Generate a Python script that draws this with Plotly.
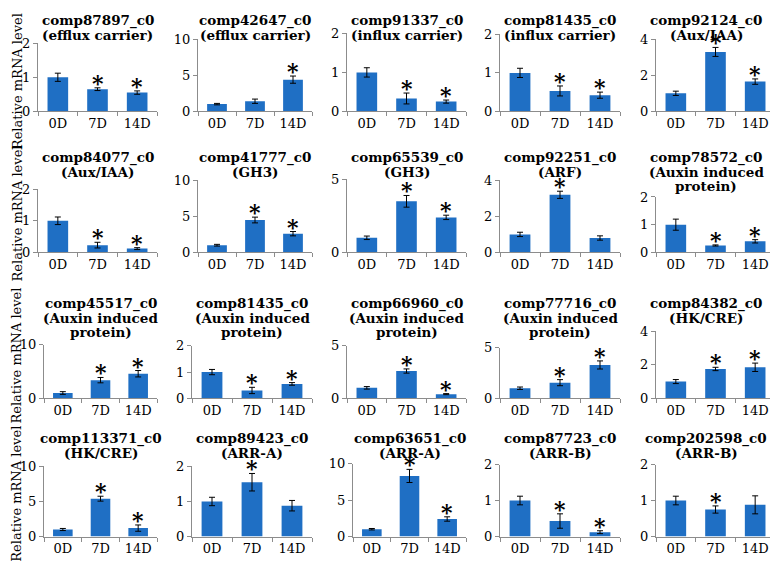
import plotly.graph_objects as go

days = ["0D", "7D", "14D"]

genes = [
    "comp87897_c0", "comp42647_c0", "comp91337_c0", "comp81435_c0", "comp92124_c0",
    "comp84077_c0", "comp41777_c0", "comp65539_c0", "comp92251_c0", "comp78572_c0",
    "comp45517_c0", "comp81435_c0", "comp66960_c0", "comp77716_c0", "comp84382_c0",
    "comp113371_c0", "comp89423_c0", "comp63651_c0", "comp87723_c0", "comp202598_c0",
]
families = [
    "(efflux carrier)", "(efflux carrier)", "(influx carrier)", "(influx carrier)", "(Aux/IAA)",
    "(Aux/IAA)", "(GH3)", "(GH3)", "(ARF)", "(Auxin induced<br>protein)",
    "(Auxin induced<br>protein)", "(Auxin induced<br>protein)", "(Auxin induced<br>protein)",
    "(Auxin induced<br>protein)", "(HK/CRE)",
    "(HK/CRE)", "(ARR-A)", "(ARR-A)", "(ARR-B)", "(ARR-B)",
]

# relative expression (mean) at 0D, 7D, 14D
means = [
    [1.0, 0.65, 0.55], [1.0, 1.4, 4.4], [1.0, 0.33, 0.25], [1.0, 0.53, 0.42], [1.0, 3.3, 1.65],
    [1.0, 0.23, 0.12], [1.0, 4.5, 2.6], [1.0, 3.5, 2.4], [1.0, 3.2, 0.8], [1.0, 0.25, 0.4],
    [1.0, 3.4, 4.6], [1.0, 0.3, 0.55], [1.0, 2.6, 0.4], [1.0, 1.55, 3.3], [1.0, 1.75, 1.85],
    [1.0, 5.4, 1.2], [1.0, 1.55, 0.88], [1.0, 8.3, 2.4], [1.0, 0.43, 0.12], [1.0, 0.75, 0.88],
]
errors = [
    [0.12, 0.04, 0.05], [0.1, 0.3, 0.5], [0.12, 0.14, 0.04], [0.12, 0.13, 0.08], [0.12, 0.25, 0.15],
    [0.12, 0.09, 0.03], [0.12, 0.4, 0.3], [0.12, 0.4, 0.15], [0.12, 0.2, 0.12], [0.2, 0.02, 0.06],
    [0.25, 0.5, 0.6], [0.1, 0.12, 0.05], [0.12, 0.2, 0.05], [0.12, 0.3, 0.4], [0.12, 0.1, 0.25],
    [0.15, 0.35, 0.45], [0.12, 0.25, 0.15], [0.1, 0.9, 0.3], [0.12, 0.2, 0.04], [0.12, 0.1, 0.25],
]
signif = [
    [0, 1, 1], [0, 0, 1], [0, 1, 1], [0, 1, 1], [0, 1, 1],
    [0, 1, 1], [0, 1, 1], [0, 1, 1], [0, 1, 0], [0, 1, 1],
    [0, 1, 1], [0, 1, 1], [0, 1, 1], [0, 1, 1], [0, 1, 1],
    [0, 1, 1], [0, 1, 0], [0, 1, 1], [0, 1, 1], [0, 1, 0],
]
ymax = [2, 10, 2, 2, 4, 2, 10, 5, 4, 2, 10, 2, 5, 5, 4, 10, 2, 10, 2, 2]
ystep = [1, 5, 1, 1, 2, 1, 5, 5, 2, 1, 10, 1, 5, 5, 2, 5, 1, 5, 1, 1]

# the page body keeps a default 8px margin, so the figure is drawn 8px in
# (height kept short enough that the page does not scroll)
OFF = 8
W, H = 778 - OFF, 571 - 2 * OFF
FONT = "DejaVu Serif"
BLUE = "#1F6FC4"
GREY = "#8c8c8c"

# panel geometry in screen pixels
col_left = [38, 192, 347, 500, 656]
col_right = [157, 312, 466, 620, 775]
row_zero = [107, 252, 402, 544]
tops = [37, 33, 27, 28, 33,
        187, 178, 177, 178, 195,
        347, 348, 348, 350, 333,
        472, 472, 469, 470, 470]
title_y = [14, 154, 304, 443]
ylabel_y = [76, 212, 358, 500]


def px(x):
    return (x - OFF) / W


def py(y):
    return 1 - (y - OFF) / H


fig = go.Figure()
annotations = []
layout = {}

for i in range(20):
    r, c = divmod(i, 5)
    n = i + 1
    left = col_left[c] + (6 if ymax[i] >= 10 else 0)
    right = col_right[c]
    xa = "xaxis" if n == 1 else f"xaxis{n}"
    ya = "yaxis" if n == 1 else f"yaxis{n}"
    xr = "x" if n == 1 else f"x{n}"
    yr = "y" if n == 1 else f"y{n}"

    fig.add_trace(go.Bar(
        x=days, y=means[i], xaxis=xr, yaxis=yr, width=0.52,
        marker=dict(color=BLUE, line=dict(width=0)),
        error_y=dict(type="data", array=errors[i], color="black", thickness=1, width=3),
        showlegend=False,
    ))

    layout[xa] = dict(
        domain=[px(left), px(right)], anchor=yr, range=[-0.5, 2.5],
        showline=True, linecolor=GREY, linewidth=1,
        ticks="outside", tickson="boundaries", ticklen=4, tickcolor=GREY,
        ticklabelstandoff=0,
        tickfont=dict(family=FONT, size=13, color="black"),
        showgrid=False, fixedrange=True,
    )
    layout[ya] = dict(
        domain=[py(row_zero[r]), py(tops[i])], anchor=xr,
        range=[0, ymax[i]], tickvals=list(range(0, ymax[i] + 1, ystep[i])),
        showline=True, linecolor=GREY, linewidth=1,
        ticks="outside", ticklen=4, tickcolor=GREY,
        tickfont=dict(family=FONT, size=13, color="black"),
        showgrid=False, zeroline=False, fixedrange=True,
    )

    # two or three line bold title
    lines = [genes[i]] + families[i].split("<br>")
    cx = px(min((left + right) / 2, 706))
    for k, line in enumerate(lines):
        annotations.append(dict(
            text="<b>" + line + "</b>", x=cx, y=py(title_y[r] + k * 15),
            xref="paper", yref="paper", xanchor="center", yanchor="middle",
            showarrow=False, font=dict(family=FONT, size=13.5, color="black"),
        ))

    for d, m, e, s in zip(days, means[i], errors[i], signif[i]):
        if s:
            annotations.append(dict(
                text="<b>*</b>", x=d, y=m + e, xref=xr, yref=yr,
                xanchor="center", yanchor="bottom", yshift=-10, showarrow=False,
                font=dict(family=FONT, size=22, color="black"),
            ))

for r in range(4):
    annotations.append(dict(
        text="Relative mRNA level", x=px(17), y=py(ylabel_y[r]),
        xref="paper", yref="paper", xanchor="center", yanchor="middle",
        textangle=-90, showarrow=False,
        font=dict(family=FONT, size=13, color="black"),
    ))

fig.update_layout(
    width=W, height=H, margin=dict(l=0, r=0, t=0, b=0),
    paper_bgcolor="white", plot_bgcolor="white",
    annotations=annotations, **layout,
)

fig.write_html("out.html")
